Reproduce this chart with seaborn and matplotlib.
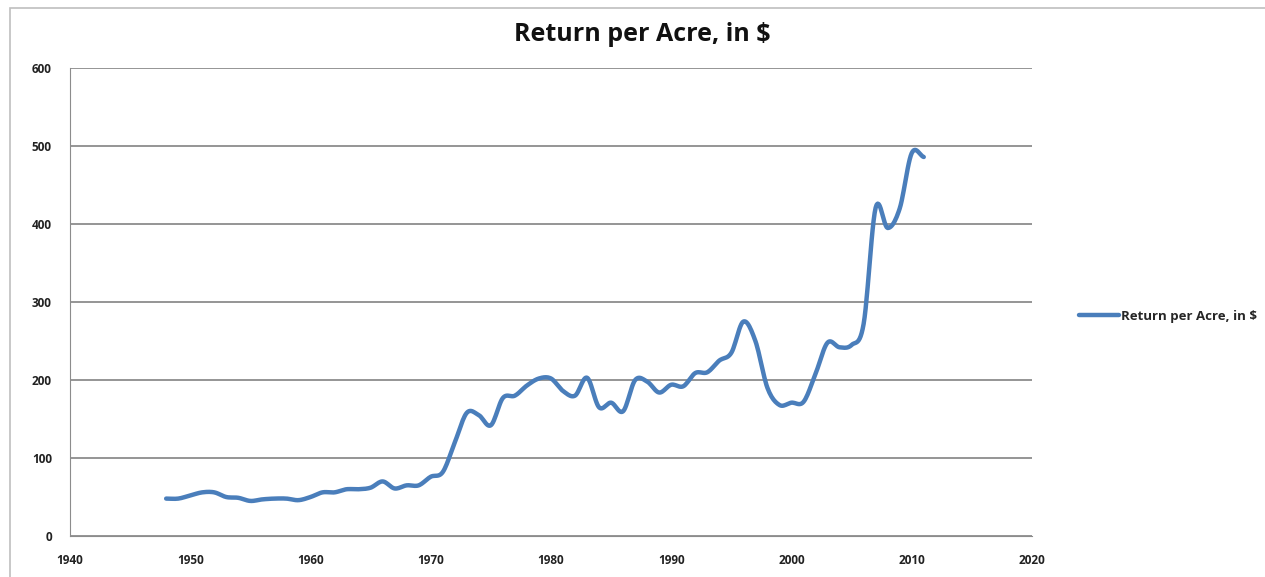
import numpy as np
import pandas as pd
import matplotlib
matplotlib.use("Agg")
import matplotlib.pyplot as plt
import seaborn as sns

# Return per acre, yearly values
years = list(range(1948, 2012))
returns = [48, 48, 52, 56, 56, 50, 49, 45, 47, 48,
           48, 46, 50, 56, 56, 60, 60, 62, 70, 61,
           65, 65, 76, 82, 120, 158, 155, 142, 177, 180,
           193, 202, 202, 186, 180, 203, 165, 171, 160, 200,
           198, 184, 194, 192, 209, 210, 225, 235, 275, 250,
           190, 168, 171, 172, 208, 248, 242, 245, 272, 421,
           395, 420, 491, 486]
x_ticks = list(range(1940, 2021, 10))
y_ticks = list(range(0, 601, 100))
series_name = "Return per Acre, in $"


def smooth(x, y, n=12):
    # Catmull-Rom spline through the points, like Excel's smoothed line
    x = np.asarray(x, float)
    y = np.asarray(y, float)
    px = np.concatenate([[2 * x[0] - x[1]], x, [2 * x[-1] - x[-2]]])
    py = np.concatenate([[2 * y[0] - y[1]], y, [2 * y[-1] - y[-2]]])
    xs, ys = [], []
    t = np.linspace(0, 1, n, endpoint=False)
    for i in range(1, len(px) - 2):
        for arr, out in ((px, xs), (py, ys)):
            p0, p1, p2, p3 = arr[i - 1:i + 3]
            out.extend(0.5 * ((2 * p1) + (-p0 + p2) * t
                              + (2 * p0 - 5 * p1 + 4 * p2 - p3) * t ** 2
                              + (-p0 + 3 * p1 - 3 * p2 + p3) * t ** 3))
    xs.append(x[-1])
    ys.append(y[-1])
    return np.array(xs), np.array(ys)


sx, sy = smooth(years, returns)
df = pd.DataFrame({"year": sx, "value": sy, "series": series_name})

sns.set_style("white")
plt.rcParams["font.family"] = ["Open Sans", "DejaVu Sans"]

fig = plt.figure(figsize=(12.65, 5.77), dpi=100)
ax = fig.add_axes([0.0553, 0.071, 0.7605, 0.811])

sns.lineplot(data=df, x="year", y="value", hue="series", sort=False,
             palette=["#4a7ebb"], linewidth=3.2, ax=ax)

ax.set_xlim(1940, 2020)
ax.set_ylim(0, 600)
ax.set_xticks(x_ticks)
ax.set_yticks(y_ticks)
ax.set_xlabel("")
ax.set_ylabel("")
ax.grid(axis="y", color="#8c8c8c", linewidth=1.3)
ax.set_axisbelow(True)
for side in ["top", "right"]:
    ax.spines[side].set_visible(False)
ax.spines["left"].set_color("#8c8c8c")
ax.spines["bottom"].set_color("#8c8c8c")
ax.tick_params(axis="both", labelsize=8.5, colors="#222222", length=4,
               direction="out", width=1, pad=9)
ax.tick_params(axis="both", color="#8c8c8c")
for lbl in ax.get_xticklabels() + ax.get_yticklabels():
    lbl.set_fontweight("bold")

fig.text(0.508, 0.94, series_name, ha="center", va="center",
         fontsize=18, fontweight="bold", color="#111111")

leg = ax.legend(loc="center left", bbox_to_anchor=(1.037, 0.47), frameon=False,
                fontsize=9.5, handlelength=3.0, handletextpad=0.15)
for t in leg.get_texts():
    t.set_fontweight("bold")
for h in leg.get_lines():
    h.set_linewidth(3.2)

border = plt.Rectangle((0.008, -0.01), 0.995, 0.997, transform=fig.transFigure,
                       fill=False, edgecolor="#bfbfbf", linewidth=1.2)
fig.patches.append(border)

fig.savefig("out.png", dpi=100)
